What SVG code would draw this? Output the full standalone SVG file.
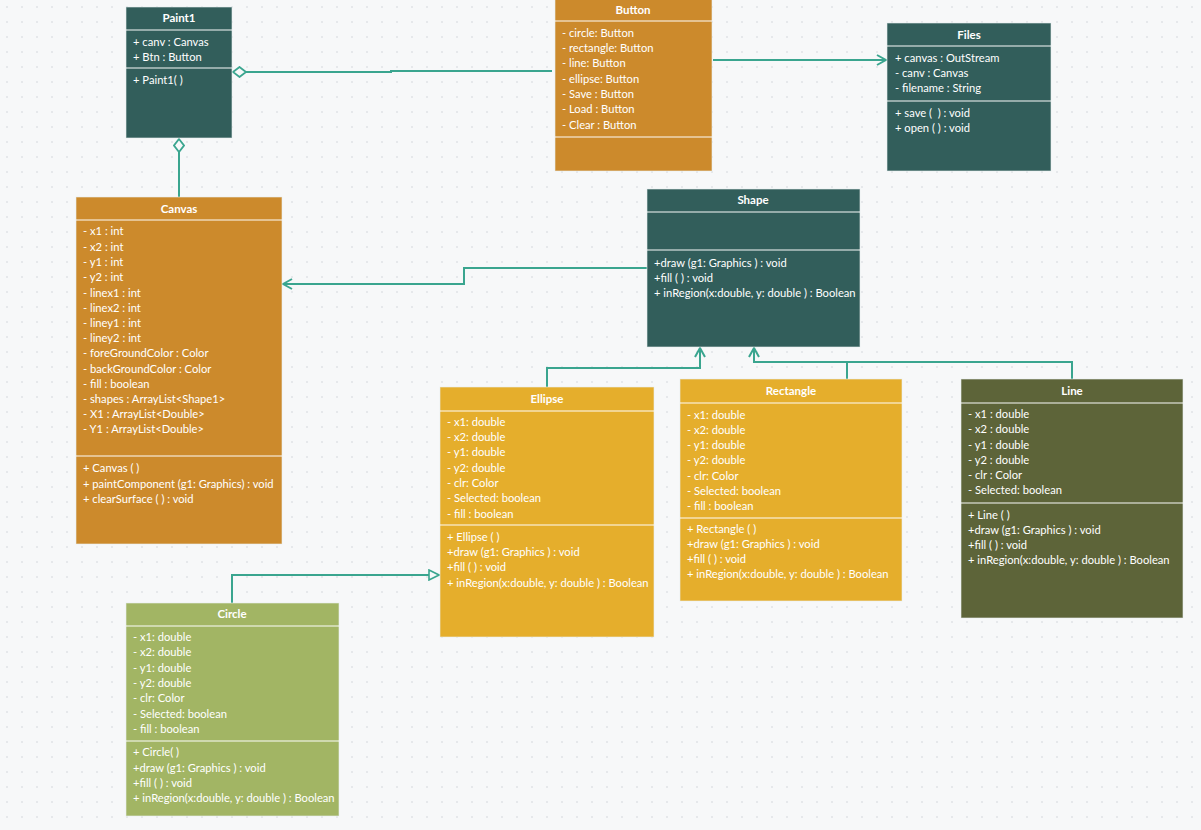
<svg xmlns="http://www.w3.org/2000/svg" width="1201" height="830" viewBox="0 0 1201 830">
<defs>
<pattern id="grid" x="0" y="0" width="15" height="15" patternUnits="userSpaceOnUse">
<circle cx="7" cy="7" r="0.8" fill="#cfd4d8"/>
</pattern>
<marker id="open" viewBox="0 0 12 12" refX="11" refY="6" markerWidth="12" markerHeight="12" markerUnits="userSpaceOnUse" orient="auto">
<path d="M2,1 L11,6 L2,11" fill="none" stroke="#3aa58f" stroke-width="2"/>
</marker>
<marker id="tri" viewBox="0 0 12 12" refX="11" refY="6" markerWidth="12" markerHeight="12" markerUnits="userSpaceOnUse" orient="auto">
<path d="M1,1 L11,6 L1,11 Z" fill="#f7f8f9" stroke="#3aa58f" stroke-width="1.6"/>
</marker>
<marker id="dia" viewBox="0 0 16 12" refX="1" refY="6" markerWidth="16" markerHeight="12" markerUnits="userSpaceOnUse" orient="auto">
<path d="M1,6 L7.5,1 L14,6 L7.5,11 Z" fill="#f7f8f9" stroke="#3aa58f" stroke-width="1.8"/>
</marker>
</defs>
<style>
text{font-family:Lato,"Noto Sans","Liberation Sans",sans-serif;font-size:11.2px;fill:#ffffff}
.t{font-weight:bold;text-anchor:middle;font-size:11.5px}
.box{stroke:#e9eef0;stroke-width:1;stroke-opacity:0.6}
.div{stroke:#ffffff;stroke-opacity:0.65;stroke-width:1.6}
.teal{fill:#325e5b}
.orange{fill:#cc8a2c}
.yellow{fill:#e5ae2c}
.olive{fill:#5d6439}
.green{fill:#a2b564}
.c{fill:none;stroke:#3aa58f;stroke-width:2}
</style>
<rect width="1201" height="830" fill="#f7f8f9"/>
<rect width="1201" height="830" fill="url(#grid)"/>

<g id="connectors">
<path class="c" d="M233,72 L391,72 L391,71 L552,71" marker-start="url(#dia)"/>
<path class="c" d="M179,139 L179,197" marker-start="url(#dia)"/>
<path class="c" d="M713,60 L886,60" marker-end="url(#open)"/>
<path class="c" d="M647,268 L464,268 L464,284 L283,284" marker-end="url(#open)"/>
<path class="c" d="M547,387 L547,368 L700,368 L700,348" marker-end="url(#open)"/>
<path class="c" d="M847,379 L847,362 L754,362 L754,348" marker-end="url(#open)"/>
<path class="c" d="M1072,379 L1072,362 L847,362"/>
<path class="c" d="M232,603 L232,575 L439,575" marker-end="url(#tri)"/>
</g>

<g id="Paint1">
<rect class="box teal" x="126" y="7" width="106" height="131"/>
<line class="div" x1="126" y1="30" x2="232" y2="30"/>
<line class="div" x1="126" y1="68" x2="232" y2="68"/>
<text class="t" x="179" y="22">Paint1</text>
<text x="133" y="46">+ canv : Canvas</text>
<text x="133" y="61">+ Btn : Button</text>
<text x="133" y="84">+ Paint1( )</text>
</g>

<g id="Button">
<rect class="box orange" x="555" y="-1" width="157" height="172"/>
<line class="div" x1="555" y1="21" x2="712" y2="21"/>
<line class="div" x1="555" y1="137" x2="712" y2="137"/>
<text class="t" x="633" y="14">Button</text>
<text x="562" y="37">- circle: Button</text>
<text x="562" y="52">- rectangle: Button</text>
<text x="562" y="67">- line: Button</text>
<text x="562" y="83">- ellipse: Button</text>
<text x="562" y="98">- Save : Button</text>
<text x="562" y="113">- Load : Button</text>
<text x="562" y="129">- Clear : Button</text>
</g>

<g id="Files">
<rect class="box teal" x="887" y="23" width="164" height="148"/>
<line class="div" x1="887" y1="46" x2="1051" y2="46"/>
<line class="div" x1="887" y1="101" x2="1051" y2="101"/>
<text class="t" x="969" y="39">Files</text>
<text x="895" y="62">+ canvas : OutStream</text>
<text x="895" y="77">- canv : Canvas</text>
<text x="895" y="92">- filename : String</text>
<text x="895" y="117">+ save (&#160; ) : void</text>
<text x="895" y="132">+ open ( ) : void</text>
</g>

<g id="Canvas">
<rect class="box orange" x="76" y="197" width="206" height="347"/>
<line class="div" x1="76" y1="220" x2="282" y2="220"/>
<line class="div" x1="76" y1="456" x2="282" y2="456"/>
<text class="t" x="179" y="213">Canvas</text>
<text x="83" y="235">- x1 : int</text>
<text x="83" y="251">- x2 : int</text>
<text x="83" y="266">- y1 : int</text>
<text x="83" y="281">- y2 : int</text>
<text x="83" y="297">- linex1 : int</text>
<text x="83" y="312">- linex2 : int</text>
<text x="83" y="327">- liney1 : int</text>
<text x="83" y="342">- liney2 : int</text>
<text x="83" y="357">- foreGroundColor : Color</text>
<text x="83" y="373">- backGroundColor : Color</text>
<text x="83" y="388">- fill : boolean</text>
<text x="83" y="403">- shapes : ArrayList&lt;Shape1&gt;</text>
<text x="83" y="418">- X1 : ArrayList&lt;Double&gt;</text>
<text x="83" y="433">- Y1 : ArrayList&lt;Double&gt;</text>
<text x="83" y="472">+ Canvas ( )</text>
<text x="83" y="488">+ paintComponent (g1: Graphics) : void</text>
<text x="83" y="503">+ clearSurface ( ) : void</text>
</g>

<g id="Shape">
<rect class="box teal" x="647" y="189" width="213" height="158"/>
<line class="div" x1="647" y1="212" x2="860" y2="212"/>
<line class="div" x1="647" y1="250" x2="860" y2="250"/>
<text class="t" x="753" y="204">Shape</text>
<text x="654" y="267">+draw (g1: Graphics ) : void</text>
<text x="654" y="282">+fill ( ) : void</text>
<text x="654" y="297">+ inRegion(x:double, y: double ) : Boolean</text>
</g>

<g id="Ellipse">
<rect class="box yellow" x="440" y="387" width="214" height="250"/>
<line class="div" x1="440" y1="411" x2="654" y2="411"/>
<line class="div" x1="440" y1="525" x2="654" y2="525"/>
<text class="t" x="547" y="403">Ellipse</text>
<text x="447" y="426">- x1: double</text>
<text x="447" y="441">- x2: double</text>
<text x="447" y="456">- y1: double</text>
<text x="447" y="472">- y2: double</text>
<text x="447" y="487">- clr: Color</text>
<text x="447" y="502">- Selected: boolean</text>
<text x="447" y="518">- fill : boolean</text>
<text x="447" y="541">+ Ellipse ( )</text>
<text x="447" y="556">+draw (g1: Graphics ) : void</text>
<text x="447" y="571">+fill ( ) : void</text>
<text x="447" y="587">+ inRegion(x:double, y: double ) : Boolean</text>
</g>

<g id="Rectangle">
<rect class="box yellow" x="680" y="379" width="222" height="222"/>
<line class="div" x1="680" y1="403" x2="902" y2="403"/>
<line class="div" x1="680" y1="518" x2="902" y2="518"/>
<text class="t" x="791" y="395">Rectangle</text>
<text x="687" y="419">- x1: double</text>
<text x="687" y="434">- x2: double</text>
<text x="687" y="449">- y1: double</text>
<text x="687" y="464">- y2: double</text>
<text x="687" y="480">- clr: Color</text>
<text x="687" y="495">- Selected: boolean</text>
<text x="687" y="510">- fill : boolean</text>
<text x="687" y="533">+ Rectangle ( )</text>
<text x="687" y="548">+draw (g1: Graphics ) : void</text>
<text x="687" y="563">+fill ( ) : void</text>
<text x="687" y="578">+ inRegion(x:double, y: double ) : Boolean</text>
</g>

<g id="Line">
<rect class="box olive" x="961" y="379" width="222" height="239"/>
<line class="div" x1="961" y1="403" x2="1183" y2="403"/>
<line class="div" x1="961" y1="503" x2="1183" y2="503"/>
<text class="t" x="1072" y="395">Line</text>
<text x="968" y="418">- x1 : double</text>
<text x="968" y="433">- x2 : double</text>
<text x="968" y="449">- y1 : double</text>
<text x="968" y="464">- y2 : double</text>
<text x="968" y="479">- clr : Color</text>
<text x="968" y="494">- Selected: boolean</text>
<text x="968" y="519">+ Line ( )</text>
<text x="968" y="534">+draw (g1: Graphics ) : void</text>
<text x="968" y="549">+fill ( ) : void</text>
<text x="968" y="564">+ inRegion(x:double, y: double ) : Boolean</text>
</g>

<g id="Circle">
<rect class="box green" x="126" y="603" width="213" height="213"/>
<line class="div" x1="126" y1="626" x2="339" y2="626"/>
<line class="div" x1="126" y1="741" x2="339" y2="741"/>
<text class="t" x="232" y="618">Circle</text>
<text x="133" y="641">- x1: double</text>
<text x="133" y="656">- x2: double</text>
<text x="133" y="672">- y1: double</text>
<text x="133" y="687">- y2: double</text>
<text x="133" y="702">- clr: Color</text>
<text x="133" y="718">- Selected: boolean</text>
<text x="133" y="733">- fill : boolean</text>
<text x="133" y="756">+ Circle( )</text>
<text x="133" y="772">+draw (g1: Graphics ) : void</text>
<text x="133" y="787">+fill ( ) : void</text>
<text x="133" y="802">+ inRegion(x:double, y: double ) : Boolean</text>
</g>
</svg>
